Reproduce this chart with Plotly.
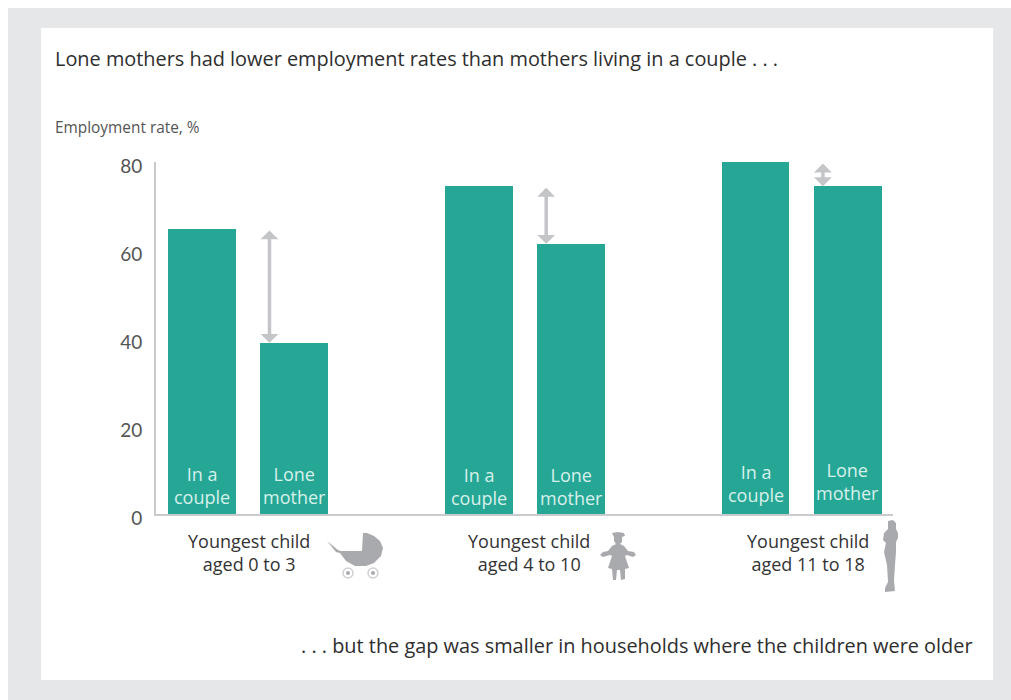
import plotly.graph_objects as go

groups = ["Youngest child<br>aged 0 to 3", "Youngest child<br>aged 4 to 10", "Youngest child<br>aged 11 to 18"]
in_couple = [64.8, 74.5, 80]
lone_mother = [38.9, 61.4, 74.5]
y_ticks = [0, 20, 40, 60, 80]
title_text = "Lone mothers had lower employment rates than mothers living in a couple . . ."
unit_text = "Employment rate, %"
foot_text = ". . . but the gap was smaller in households where the children were older"

FONT = "Open Sans"
TEAL = "#26a796"
GREY = "#c9cacc"
ARROW = "#c4c5c8"
ICON = "#a9aaae"
W, H = 1003, 692
OFF = 8
L, R, T, B = 156, 893, 162, 514

def px(x): return (x - L) / (R - L)
def py(y): return (B - y) / (B - T)

def poly(points):
    return "M" + " L".join(f"{px(x):.5f},{py(y):.5f}" for x, y in points) + " Z"

slots = []
values = []
for i in range(3):
    slots += [3 * i, 3 * i + 1]
    values += [in_couple[i], lone_mother[i]]

fig = go.Figure(go.Bar(x=slots, y=values, marker=dict(color=TEAL, line_width=0), width=0.735, hoverinfo="skip"))

ann = []
def text(x, y, s, size, color="#333333", anchor="left", xa="paper"):
    ann.append(dict(x=px(x) if xa == "paper" else x, y=py(y), xref=xa, yref="paper", text=s, showarrow=False,
                    xanchor=anchor, yanchor="middle", align="center",
                    font=dict(family=FONT, size=size, color=color)))

text(53, 59, title_text, 19.9, "#2e2e2e")
text(53, 127, unit_text, 15.4, "#555555")
text(975, 645, foot_text, 19.9, "#2e2e2e", anchor="right")

label_y = [(485, 485), (486, 486), (483, 481)]
for i in range(3):
    text(3 * i, label_y[i][0], "In a<br>couple", 18, "#d8f0ea", "center", "x")
    text(3 * i + 1, label_y[i][1], "Lone<br>mother", 18, "#d8f0ea", "center", "x")
    # gap arrow between the two bars' values
    ann.append(dict(x=3 * i + 0.73, y=lone_mother[i], ax=3 * i + 0.73, ay=in_couple[i], xref="x", yref="y", axref="x", ayref="y",
                    text="", showarrow=True, arrowhead=1, arrowside="end+start", arrowsize=0.85, arrowwidth=3.5, arrowcolor=ARROW))

text(249, 552, groups[0], 18, anchor="center")
text(529, 552, groups[1], 18, anchor="center")
text(808, 552, groups[2], 18, anchor="center")

shapes = [
    dict(type="rect", xref="paper", yref="paper", x0=px(41), x1=px(993), y0=py(680), y1=py(28), fillcolor="white", line_width=0, layer="below"),
]
def icon(points):
    shapes.append(dict(type="path", xref="paper", yref="paper", path=poly(points), fillcolor=ICON, line_width=0))

# pram
icon([(327, 541), (338, 550), (341, 551), (362, 551), (363, 533), (367, 533), (374, 536), (380, 541), (383, 548), (381, 556),
      (374, 563), (366, 566), (355, 566), (346, 561), (340, 553), (336, 552)])
for cx in (348, 373):
    shapes.append(dict(type="circle", xref="paper", yref="paper", x0=px(cx - 5), x1=px(cx + 5), y0=py(578), y1=py(568),
                       fillcolor="white", line=dict(color="#d0d1d3", width=1.5)))
    shapes.append(dict(type="circle", xref="paper", yref="paper", x0=px(cx - 2), x1=px(cx + 2), y0=py(575), y1=py(571), fillcolor=ICON, line_width=0))
# child
icon([(612, 533), (618, 532), (624, 533), (625, 536), (622, 537), (622, 542), (620, 544), (624, 546), (628, 551), (634, 552), (636, 555),
      (633, 557), (627, 555), (625, 556), (629, 568), (625, 569), (625, 579), (621, 580), (620, 570), (617, 570), (616, 580), (613, 580), (612, 569),
      (608, 568), (612, 556), (610, 555), (603, 557), (600, 555), (603, 552), (608, 551), (612, 546), (616, 544), (614, 541), (614, 537)])
# teenager / adult
icon([(888, 521), (893, 520), (896, 523), (896, 529), (898, 533), (898, 538), (896, 542), (896, 552), (895, 565), (894, 580), (895, 591),
      (885, 592), (885, 588), (888, 582), (887, 565), (884, 552), (886, 543), (883, 540), (884, 533), (888, 529)])

fig.update_layout(
    width=W, height=H, margin=dict(l=L - OFF, r=W + OFF - R, t=T - OFF, b=H + OFF - B, autoexpand=False),
    paper_bgcolor="#e6e7e8", plot_bgcolor="rgba(0,0,0,0)", showlegend=False, bargap=0,
    annotations=ann, shapes=shapes,
    xaxis=dict(range=[-0.5, 7.49], showgrid=False, zeroline=False, showticklabels=False, ticks="", showline=True, linecolor=GREY, linewidth=2),
    yaxis=dict(range=[0, 80], tickvals=y_ticks, showgrid=False, zeroline=False, ticks="", showline=True, linecolor=GREY, linewidth=2,
               ticklabelshift=4, ticklabelstandoff=8, tickfont=dict(family="Lato", size=19, color="#555555")),
)
fig.write_html("out.html", default_width="1003px", default_height="692px",
               post_script="document.body.style.width='1003px';")
